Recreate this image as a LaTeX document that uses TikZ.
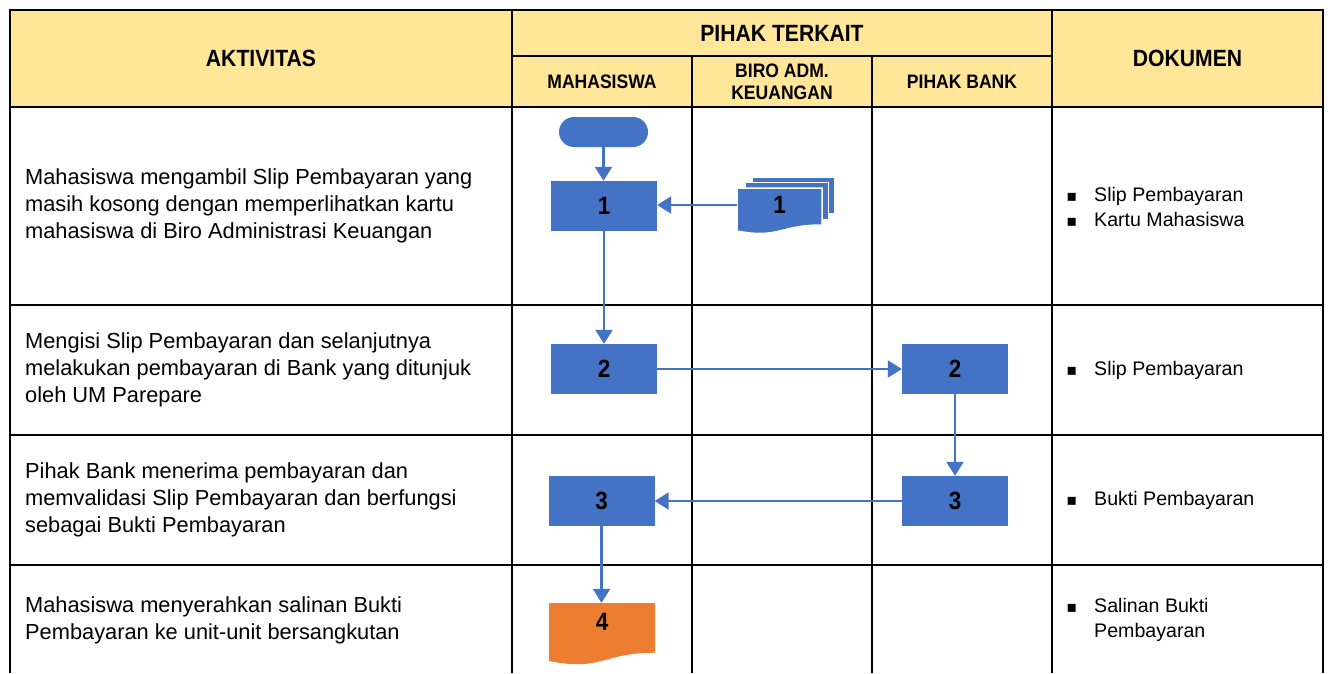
\documentclass[tikz,border=0pt]{standalone}
\usepackage{fontspec}
\setmainfont{Liberation Sans}
\newfontfamily\hdfont[FakeStretch=0.9]{Liberation Sans}
\newfontfamily\bltfont{DejaVu Sans}
\usetikzlibrary{arrows.meta}
\definecolor{hdr}{HTML}{FFE699}
\definecolor{flow}{HTML}{4472C4}
\definecolor{orng}{HTML}{ED7D31}
\newcommand\blt{\llap{{\bltfont\fontsize{16}{16}\selectfont ▪}\hspace{17pt}}}
\tikzset{
  gridline/.style={line width=1.6pt, draw=black},
  proc/.style={fill=flow, minimum width=106pt, minimum height=50pt, inner sep=0pt,
    font=\hdfont\bfseries\fontsize{25}{27}\selectfont},
  flowarrow/.style={draw=flow, line width=2.2pt, -{Triangle[length=14pt,width=17pt]}},
  acttext/.style={anchor=west, align=left, inner sep=0pt, font=\fontsize{21.8}{27}\selectfont},
  doctext/.style={anchor=west, align=left, inner sep=0pt, font=\fontsize{19.6}{25}\selectfont},
  hmain/.style={inner sep=0pt, font=\hdfont\bfseries\fontsize{23.5}{26}\selectfont},
  hsub/.style={inner sep=0pt, align=center, font=\hdfont\bfseries\fontsize{19.5}{22}\selectfont},
  docnum/.style={inner sep=0pt, font=\hdfont\bfseries\fontsize{25}{27}\selectfont},
}
\begin{document}
\begin{tikzpicture}[x=1pt,y=-1pt]
\useasboundingbox (0,0) rectangle (1328,673);
\fill[white] (0,0) rectangle (1328,673);
% header
\fill[hdr] (10,10) rectangle (1323,107);
\draw[gridline] (10,673) -- (10,10) -- (1323,10) -- (1323,673);
\draw[gridline] (512,56) -- (1052,56);
\draw[gridline] (10,107) -- (1323,107);
\draw[gridline] (10,305) -- (1323,305);
\draw[gridline] (10,435) -- (1323,435);
\draw[gridline] (10,565) -- (1323,565);
\draw[gridline] (512,10) -- (512,673);
\draw[gridline] (692,56) -- (692,673);
\draw[gridline] (872,56) -- (872,673);
\draw[gridline] (1052,10) -- (1052,673);

\node[hmain] (hakt) at (261,58.5) {AKTIVITAS};
\node[hmain] (hpih) at (782,33) {PIHAK TERKAIT};
\node[hmain] (hdok) at (1187.5,58.5) {DOKUMEN};
\node[hsub] (hmhs) at (602,81.5) {MAHASISWA};
\node[hsub] (hbiro) at (782,81.5) {BIRO ADM.\\KEUANGAN};
\node[hsub] (hbank) at (962,81.5) {PIHAK BANK};

% activities
\node[acttext] (a1) at (25,206) {Mahasiswa mengambil Slip Pembayaran yang\\masih kosong dengan memperlihatkan kartu\\mahasiswa di Biro Administrasi Keuangan};
\node[acttext] (a2) at (25,370) {Mengisi Slip Pembayaran dan selanjutnya\\melakukan pembayaran di Bank yang ditunjuk\\oleh UM Parepare};
\node[acttext] (a3) at (25,500) {Pihak Bank menerima pembayaran dan\\memvalidasi Slip Pembayaran dan berfungsi\\sebagai Bukti Pembayaran};
\node[acttext] (a4) at (25,620) {Mahasiswa menyerahkan salinan Bukti\\Pembayaran ke unit-unit bersangkutan};

% documents
\node[doctext] (k1) at (1094,207) {\blt Slip Pembayaran\\\blt Kartu Mahasiswa};
\node[doctext] (k2) at (1094,370) {\blt Slip Pembayaran};
\node[doctext] (k3) at (1094,500) {\blt Bukti Pembayaran};
\node[doctext] (k4) at (1094,620) {\blt Salinan Bukti\\Pembayaran};

% flow shapes
\node[fill=flow, rounded corners=15pt, minimum width=89pt, minimum height=30pt, inner sep=0pt] (start) at (603.5,132) {};
\node[proc] (m1) at (604,206) {1};
\node[proc] (m2) at (604,369) {2};
\node[proc] (b2) at (955,369) {2};
\node[proc] (b3) at (955,501) {3};
\node[proc] (m3) at (601.5,501) {3};

% multi-document
\filldraw[fill=flow, draw=white, line width=1.5pt] (752,177) rectangle (835,214);
\filldraw[fill=flow, draw=white, line width=1.5pt] (745,182.5) rectangle (828.5,220);
\filldraw[fill=flow, draw=white, line width=1.5pt] (737,188) -- (822,188) -- (822,225)
  .. controls (779.5,225) and (779.5,239) .. (737,231) -- cycle;
\node[docnum, minimum width=85pt, minimum height=34pt] (d1) at (779.5,205) {1};

% orange document
\fill[orng] (549,603) -- (655,603) -- (655,652.7)
  .. controls (602,652.7) and (602,671.6) .. (549,661) -- cycle;
\node[docnum, minimum width=106pt, minimum height=38pt] (d4) at (602,622) {4};

% connectors
\draw[flowarrow] (start.south) -- (start.south |- m1.north);
\draw[flowarrow] (d1.west) -- (d1.west -| m1.east);
\draw[flowarrow] (m1.south) -- (m1.south |- m2.north);
\draw[flowarrow] (m2.east) -- (b2.west);
\draw[flowarrow] (b2.south) -- (b3.north);
\draw[flowarrow] (b3.west) -- (m3.east);
\draw[flowarrow] (m3.south) -- (m3.south |- d4.north);
\end{tikzpicture}
\end{document}
